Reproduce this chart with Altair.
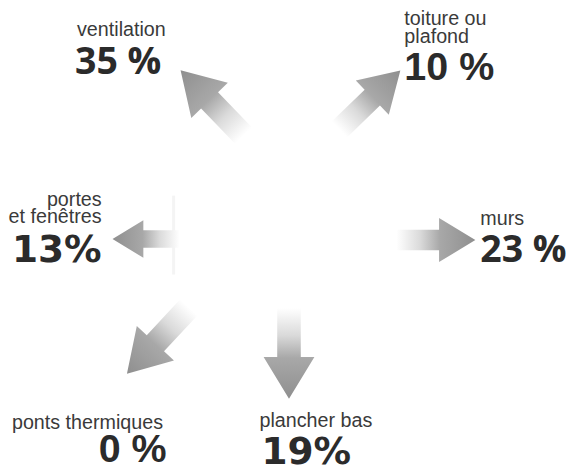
import altair as alt
import pandas as pd

# ---- data ----
categories = ["ventilation", "toiture ou\nplafond", "portes\net fenêtres", "murs", "ponts thermiques", "plancher bas"]
values = [35, 10, 13, 23, 0, 19]

# ---- layout (screen pixels) ----
label_x = [78, 410, 103, 487, 12, 263]
label_y = [33, 22, 206, 225, 432, 430]
label_align = ["left", "left", "right", "left", "left", "left"]
pct_x = [76, 410, 12, 487, 100, 265]
pct_y = [72, 78, 262, 262, 465, 467]
pct_font = ["Open Sans", "Liberation Sans", "DejaVu Sans", "Open Sans", "Liberation Sans", "DejaVu Sans"]
pct_size = [38, 40, 38, 38, 40, 38]
pct_sep = [" ", " ", "", " ", " ", ""]

arrow_x = [215, 375, 148, 442, 160, 293]
arrow_y = [101, 98, 239, 240, 342, 355]
arrow_angle = [226, 316, 180, 0, 133, 90]
arrow_len = [92, 86, 68, 80, 92, 92]

W, H = 578, 473

labels = pd.DataFrame({
    "text": categories,
    "x": label_x,
    "y": label_y,
    "align": label_align,
})
pcts = pd.DataFrame({
    "text": [f"{v}{s}%" for v, s in zip(values, pct_sep)],
    "x": pct_x,
    "y": pct_y,
    "font": pct_font,
    "size": pct_size,
})
arrows = pd.DataFrame({
    "x": arrow_x,
    "y": arrow_y,
    "angle": arrow_angle,
    "size": [l * l for l in arrow_len],
})
streak = pd.DataFrame({"x": [176], "y": [195], "y2": [275]})

xs = alt.Scale(domain=[8, W], nice=False, zero=False)
ys = alt.Scale(domain=[H, 8], nice=False, zero=False)

arrow_path = "M-1,-0.26 L0.08,-0.26 L0.08,-0.56 L1,0 L0.08,0.56 L0.08,0.26 L-1,0.26 Z"
grad = alt.Gradient(
    gradient="linear",
    x1=0, x2=1, y1=0, y2=0,
    stops=[
        alt.GradientStop(color="#ffffff", offset=0),
        alt.GradientStop(color="#dadada", offset=0.3),
        alt.GradientStop(color="#a8a8a8", offset=0.55),
        alt.GradientStop(color="#8f8f8f", offset=1),
    ],
)

enc = dict(
    x=alt.X("x:Q", scale=xs, axis=None),
    y=alt.Y("y:Q", scale=ys, axis=None),
)

streak_layer = alt.Chart(streak).mark_rule(color="#f4f4f4", strokeWidth=3).encode(
    y2="y2:Q", **enc
)

arrow_layer = alt.Chart(arrows).mark_point(
    shape=arrow_path, filled=True, fill=grad, strokeWidth=0, opacity=1
).encode(
    angle=alt.Angle("angle:Q", scale=None),
    size=alt.Size("size:Q", scale=None),
    **enc,
)

label_left = alt.Chart(labels).transform_filter("datum.align == 'left'").mark_text(
    align="left", baseline="alphabetic", fontSize=20, font="Liberation Sans",
    color="#3a3a3a", lineBreak="\n", lineHeight=18
).encode(text="text:N", **enc)

label_right = alt.Chart(labels).transform_filter("datum.align == 'right'").mark_text(
    align="right", baseline="alphabetic", fontSize=20, font="Liberation Sans",
    color="#3a3a3a", lineBreak="\n", lineHeight=17
).encode(text="text:N", **enc)

pct_layers = []
for f in sorted(set(pct_font)):
    pct_layers.append(
        alt.Chart(pcts).transform_filter(f"datum.font == '{f}'").mark_text(
            align="left", baseline="alphabetic", fontWeight="bold",
            color="#2b2b2b", font=f
        ).encode(text="text:N", size=alt.Size("size:Q", scale=None), **enc)
    )

chart = alt.layer(streak_layer, arrow_layer, label_left, label_right, *pct_layers).properties(
    width=W - 8, height=H - 8, padding=0, autosize=alt.AutoSizeParams(type="none")
).configure_view(stroke=None)

chart.save("out.html", embed_options={"renderer": "svg", "actions": False})
